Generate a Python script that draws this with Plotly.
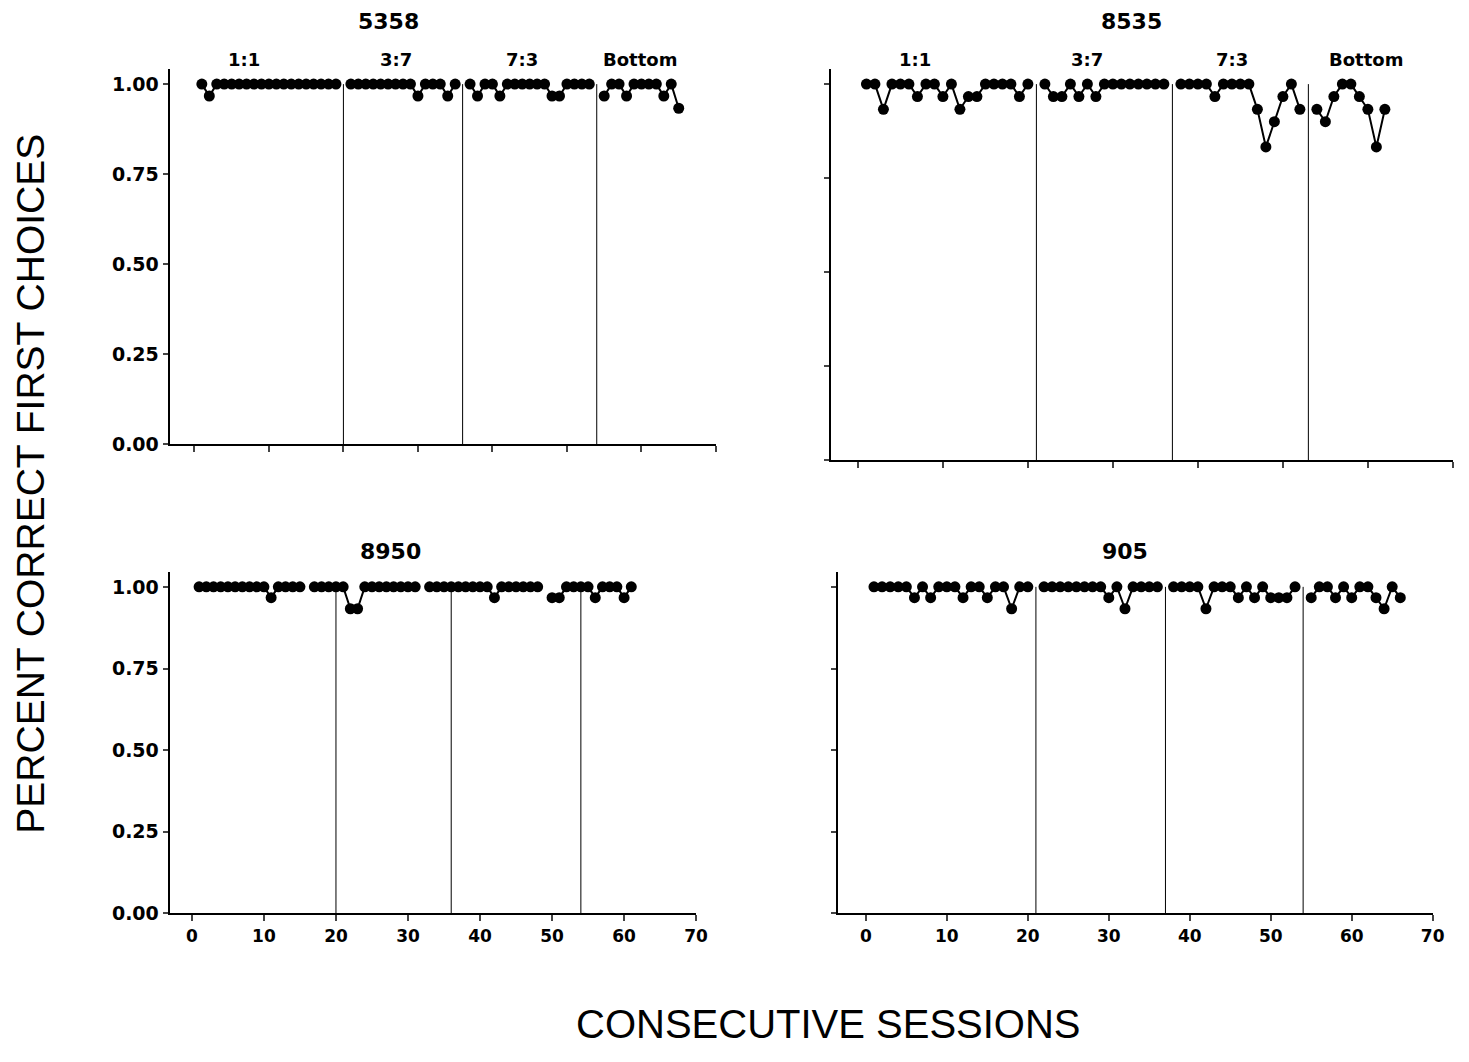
import plotly.graph_objects as go

W, H = 1469, 1062

# ---------------- data ----------------
x_ticks = [0, 10, 20, 30, 40, 50, 60, 70]
y_ticks = [0.0, 0.25, 0.5, 0.75, 1.0]
y_tick_text = ["0.00", "0.25", "0.50", "0.75", "1.00"]
phase_names = ["1:1", "3:7", "7:3", "Bottom"]
phase_label_x = [6.7, 27.0, 44.0, 59.8]

# proportion correct per consecutive session (None = no point / break)
subj_5358 = [1.0, 0.967, 1.0, 1.0, 1.0, 1.0, 1.0, 1.0, 1.0, 1.0,
             1.0, 1.0, 1.0, 1.0, 1.0, 1.0, 1.0, 1.0, 1.0, None,
             1.0, 1.0, 1.0, 1.0, 1.0, 1.0, 1.0, 1.0, 1.0, 0.967,
             1.0, 1.0, 1.0, 0.967, 1.0, None,
             1.0, 0.967, 1.0, 1.0, 0.967, 1.0, 1.0, 1.0, 1.0, 1.0,
             1.0, 0.967, 0.967, 1.0, 1.0, 1.0, 1.0, None,
             0.967, 1.0, 1.0, 0.967, 1.0, 1.0, 1.0, 1.0, 0.967, 1.0, 0.933]
lines_5358 = [20, 36, 54]

subj_8535 = [1.0, 1.0, 0.933, 1.0, 1.0, 1.0, 0.967, 1.0, 1.0, 0.967,
             1.0, 0.933, 0.967, 0.967, 1.0, 1.0, 1.0, 1.0, 0.967, 1.0, None,
             1.0, 0.967, 0.967, 1.0, 0.967, 1.0, 0.967, 1.0, 1.0, 1.0,
             1.0, 1.0, 1.0, 1.0, 1.0, None,
             1.0, 1.0, 1.0, 1.0, 0.967, 1.0, 1.0, 1.0, 1.0, 0.933,
             0.833, 0.9, 0.967, 1.0, 0.933, None,
             0.933, 0.9, 0.967, 1.0, 1.0, 0.967, 0.933, 0.833, 0.933]
lines_8535 = [21, 37, 53]

subj_8950 = [1.0, 1.0, 1.0, 1.0, 1.0, 1.0, 1.0, 1.0, 1.0, 1.0,
             0.967, 1.0, 1.0, 1.0, 1.0, None, 1.0, 1.0, 1.0, 1.0,
             1.0, 0.933, 0.933, 1.0, 1.0, 1.0, 1.0, 1.0, 1.0, 1.0,
             1.0, None, 1.0, 1.0, 1.0, 1.0, 1.0, 1.0, 1.0, 1.0,
             1.0, 0.967, 1.0, 1.0, 1.0, 1.0, 1.0, 1.0, None, 0.967,
             0.967, 1.0, 1.0, 1.0, 1.0, 0.967, 1.0, 1.0, 1.0, 0.967, 1.0]
lines_8950 = [20, 36, 54]

subj_905 = [1.0, 1.0, 1.0, 1.0, 1.0, 0.967, 1.0, 0.967, 1.0, 1.0,
            1.0, 0.967, 1.0, 1.0, 0.967, 1.0, 1.0, 0.933, 1.0, 1.0, None,
            1.0, 1.0, 1.0, 1.0, 1.0, 1.0, 1.0, 1.0, 0.967, 1.0,
            0.933, 1.0, 1.0, 1.0, 1.0, None,
            1.0, 1.0, 1.0, 1.0, 0.933, 1.0, 1.0, 1.0, 0.967, 1.0,
            0.967, 1.0, 0.967, 0.967, 0.967, 1.0, None,
            0.967, 1.0, 1.0, 0.967, 1.0, 0.967, 1.0, 1.0, 0.967, 0.933, 1.0, 0.967]
lines_905 = [21, 37, 54]

FONT = "Liberation Sans, Arial, sans-serif"
BFONT = "DejaVu Sans, Verdana, sans-serif"

# panel geometry in pixels
panels = [
    dict(name="5358", vals=subj_5358, lines=lines_5358, L=171, R=722, X0=196, UX=7.514,
         B=449, T=70, Y1=85, xlab=False, ylab=True, phases=True, tx=392, ty=22),
    dict(name="8535", vals=subj_8535, lines=lines_8535, L=838, R=1465, X0=865, UX=8.571,
         B=465, T=70, Y1=85, xlab=False, ylab=False, phases=True, tx=1141, ty=22),
    dict(name="8950", vals=subj_8950, lines=lines_8950, L=171, R=702, X0=193.5, UX=7.27,
         B=923, T=578, Y1=593, xlab=True, ylab=True, phases=False, tx=394, ty=557),
    dict(name="905", vals=subj_905, lines=lines_905, L=845, R=1445, X0=873, UX=8.164,
         B=923, T=578, Y1=593, xlab=True, ylab=False, phases=False, tx=1134, ty=557),
]

fig = go.Figure()
shapes = []
annotations = []

for i, p in enumerate(panels, start=1):
    xa = "x" if i == 1 else f"x{i}"
    ya = "y" if i == 1 else f"y{i}"
    sessions = list(range(1, len(p["vals"]) + 1))
    fig.add_trace(go.Scatter(
        x=sessions, y=p["vals"], xaxis=xa, yaxis=ya, mode="lines+markers",
        line=dict(color="black", width=2),
        marker=dict(color="black", size=11),
        connectgaps=False, cliponaxis=False, showlegend=False, hoverinfo="x+y"))
    for lx in p["lines"]:
        shapes.append(dict(type="line", xref=xa, yref=ya, x0=lx, x1=lx, y0=0, y1=1.0,
                           line=dict(color="black", width=1), layer="below"))
    xmin = -(p["X0"] - p["L"]) / p["UX"]
    xmax = max(70.02, (p["R"] - p["X0"]) / p["UX"])
    yunit = p["B"] - p["Y1"]
    ymax = (p["B"] - p["T"]) / yunit
    axkey_x = "xaxis" if i == 1 else f"xaxis{i}"
    axkey_y = "yaxis" if i == 1 else f"yaxis{i}"
    fig.layout[axkey_x] = dict(
        domain=[p["L"] / W, p["R"] / W], range=[xmin, xmax], anchor=ya,
        tickvals=x_ticks, ticktext=[str(v) for v in x_ticks], showticklabels=p["xlab"],
        ticks="outside", ticklen=6, tickwidth=1.5, tickcolor="#444",
        showline=True, linecolor="black", linewidth=2, showgrid=False, zeroline=False,
        tickfont=dict(family=BFONT, size=17, color="black", weight="bold"))
    fig.layout[axkey_y] = dict(
        domain=[1 - p["B"] / H, 1 - p["T"] / H], range=[0, ymax], anchor=xa,
        tickvals=y_ticks, ticktext=y_tick_text, showticklabels=p["ylab"],
        ticks="outside", ticklen=5, tickwidth=1.5, tickcolor="#444",
        showline=True, linecolor="black", linewidth=2, showgrid=False, zeroline=False,
        tickfont=dict(family=BFONT, size=19, color="black", weight="bold"))
    annotations.append(dict(text=p["name"], xref="paper", yref="paper",
                            x=p["tx"] / W, y=1 - p["ty"] / H,
                            showarrow=False, xanchor="center", yanchor="middle",
                            font=dict(family=BFONT, size=22, color="black", weight="bold")))
    if p["phases"]:
        for cx, nm in zip(phase_label_x, phase_names):
            annotations.append(dict(text=nm, xref=xa, yref="paper",
                                    x=cx, y=1 - 60 / H, showarrow=False,
                                    xanchor="center", yanchor="middle",
                                    font=dict(family=BFONT, size=18, color="black", weight="bold")))

annotations.append(dict(text="PERCENT CORRECT FIRST CHOICES", xref="paper", yref="paper",
                        x=31 / W, y=1 - 489 / H, textangle=-90, showarrow=False,
                        xanchor="center", yanchor="middle",
                        font=dict(family=FONT, size=39, color="black")))
annotations.append(dict(text="CONSECUTIVE SESSIONS", xref="paper", yref="paper",
                        x=835 / W, y=1 - 1035 / H, showarrow=False,
                        xanchor="center", yanchor="middle",
                        font=dict(family=FONT, size=40, color="black")))

fig.update_layout(width=W, height=H, margin=dict(l=0, r=0, t=0, b=0),
                  paper_bgcolor="white", plot_bgcolor="white",
                  shapes=shapes, annotations=annotations, showlegend=False)

fig.write_html("out.html",
               post_script="document.body.style.margin='0px';document.body.style.overflow='hidden';")
